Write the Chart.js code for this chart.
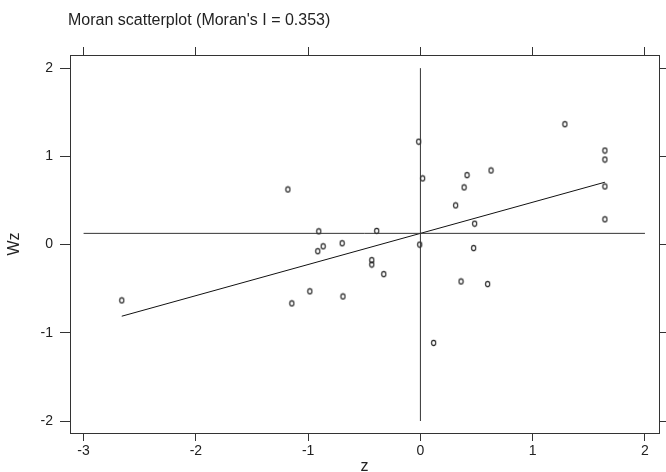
<!DOCTYPE html>
<html>
<head>
<meta charset="utf-8">
<script src="https://cdn.jsdelivr.net/npm/chart.js@4.4.1/dist/chart.umd.min.js"></script>
<style>
  body { margin: 0; background: #fff; }
  canvas { display: block; }
</style>
</head>
<body>
<canvas id="moranChart" width="666" height="472"></canvas>
<script>
// data
const zVals = [-2.66, -1.18, -1.145, -0.985, -0.905, -0.914, -0.866, -0.697, -0.69, -0.389,
    -0.433, -0.433, -0.326, -0.015, 0.02, -0.006, 0.118, 0.314, 0.362, 0.389,
    0.415, 0.474, 0.483, 0.599, 0.629, 1.287, 1.643, 1.643, 1.643, 1.643];
const wzVals = [-0.633, 0.625, -0.667, -0.53, 0.15, -0.075, -0.02, 0.015, -0.588, 0.155,
    -0.177, -0.226, -0.335, 1.167, 0.75, 0.0, -1.115, 0.444, -0.418, 0.648,
    0.787, -0.04, 0.237, -0.448, 0.84, 1.364, 1.066, 0.964, 0.659, 0.286];

const fitZ = [-2.66, 1.643];
const fitWz = [-0.812, 0.707];
const meanWz = 0.127;
const vLineWz = [-2, 2];
const hLineZ = [-3, 2];

const xTicks = [-3, -2, -1, 0, 1, 2];
const yTicks = [-2, -1, 0, 1, 2];
const titleText = "Moran scatterplot (Moran's I = 0.353)";

const FONT = "Arial, 'Liberation Sans', sans-serif";
const INK = '#333';

// little "o" marker
const marker = document.createElement('canvas');
marker.width = 7;
marker.height = 8;
(function() {
    const c = marker.getContext('2d');
    c.strokeStyle = '#222';
    c.lineWidth = 1.1;
    c.beginPath();
    c.ellipse(3.5, 4, 2.1, 2.6, 0, 0, Math.PI * 2);
    c.stroke();
})();

const points = zVals.map((z, i) => ({ x: z, y: wzVals[i] }));

const titlePlugin = {
    id: 'plotTitle',
    afterDraw(chart) {
        const ctx = chart.ctx;
        ctx.save();
        ctx.font = '16px ' + FONT;
        ctx.fillStyle = '#222';
        ctx.textAlign = 'left';
        ctx.textBaseline = 'alphabetic';
        ctx.fillText(titleText, 68, 25);
        ctx.restore();
    }
};

const setTicks = (vals) => (axis) => {
    axis.ticks = vals.map(v => ({ value: v }));
};

const edgeGrid = (len) => ({
    display: true,
    drawOnChartArea: false,
    drawTicks: true,
    tickLength: len,
    color: INK,
    lineWidth: 1
});

const xRange = { min: -3.121, max: 2.125 };
const yRange = { min: -2.136, max: 2.149 };

new Chart(document.getElementById('moranChart'), {
    type: 'scatter',
    data: {
        datasets: [
            {
                data: [{ x: 0, y: vLineWz[0] }, { x: 0, y: vLineWz[1] }],
                showLine: true, borderColor: INK, borderWidth: 1, pointRadius: 0
            },
            {
                data: [{ x: hLineZ[0], y: meanWz }, { x: hLineZ[1], y: meanWz }],
                showLine: true, borderColor: INK, borderWidth: 1, pointRadius: 0
            },
            {
                data: [{ x: fitZ[0], y: fitWz[0] }, { x: fitZ[1], y: fitWz[1] }],
                showLine: true, borderColor: '#111', borderWidth: 1, pointRadius: 0
            },
            {
                data: points,
                pointStyle: marker,
                pointRadius: 3,
                showLine: false
            }
        ]
    },
    options: {
        responsive: false,
        animation: false,
        layout: { padding: 0 },
        plugins: {
            legend: { display: false },
            tooltip: { enabled: false }
        },
        scales: {
            x: {
                type: 'linear', position: 'bottom', ...xRange,
                afterBuildTicks: setTicks(xTicks),
                afterFit: (s) => { s.height = 39; },
                grid: edgeGrid(8),
                border: { display: true, color: INK, width: 1 },
                ticks: { color: '#222', font: { family: FONT, size: 14 }, padding: 2, maxRotation: 0 },
                title: { display: true, text: 'z', color: '#222', font: { family: FONT, size: 16 }, padding: { top: 0, bottom: -4 } }
            },
            x2: {
                type: 'linear', position: 'top', ...xRange,
                afterBuildTicks: setTicks(xTicks),
                afterFit: (s) => { s.height = 55; },
                grid: edgeGrid(8),
                border: { display: true, color: INK, width: 1 },
                ticks: { display: false }
            },
            y: {
                type: 'linear', position: 'left', ...yRange,
                afterBuildTicks: setTicks(yTicks),
                afterFit: (s) => { s.width = 70; },
                grid: edgeGrid(10),
                border: { display: true, color: INK, width: 1 },
                ticks: { color: '#222', font: { family: FONT, size: 14 }, padding: 7 },
                title: { display: true, text: 'Wz', color: '#222', font: { family: FONT, size: 16 }, padding: { top: 5, bottom: 0 } }
            },
            y2: {
                type: 'linear', position: 'right', ...yRange,
                afterBuildTicks: setTicks(yTicks),
                afterFit: (s) => { s.width = 7; },
                grid: edgeGrid(7),
                border: { display: true, color: INK, width: 1 },
                ticks: { display: false }
            }
        }
    },
    plugins: [titlePlugin]
});
</script>
</body>
</html>
